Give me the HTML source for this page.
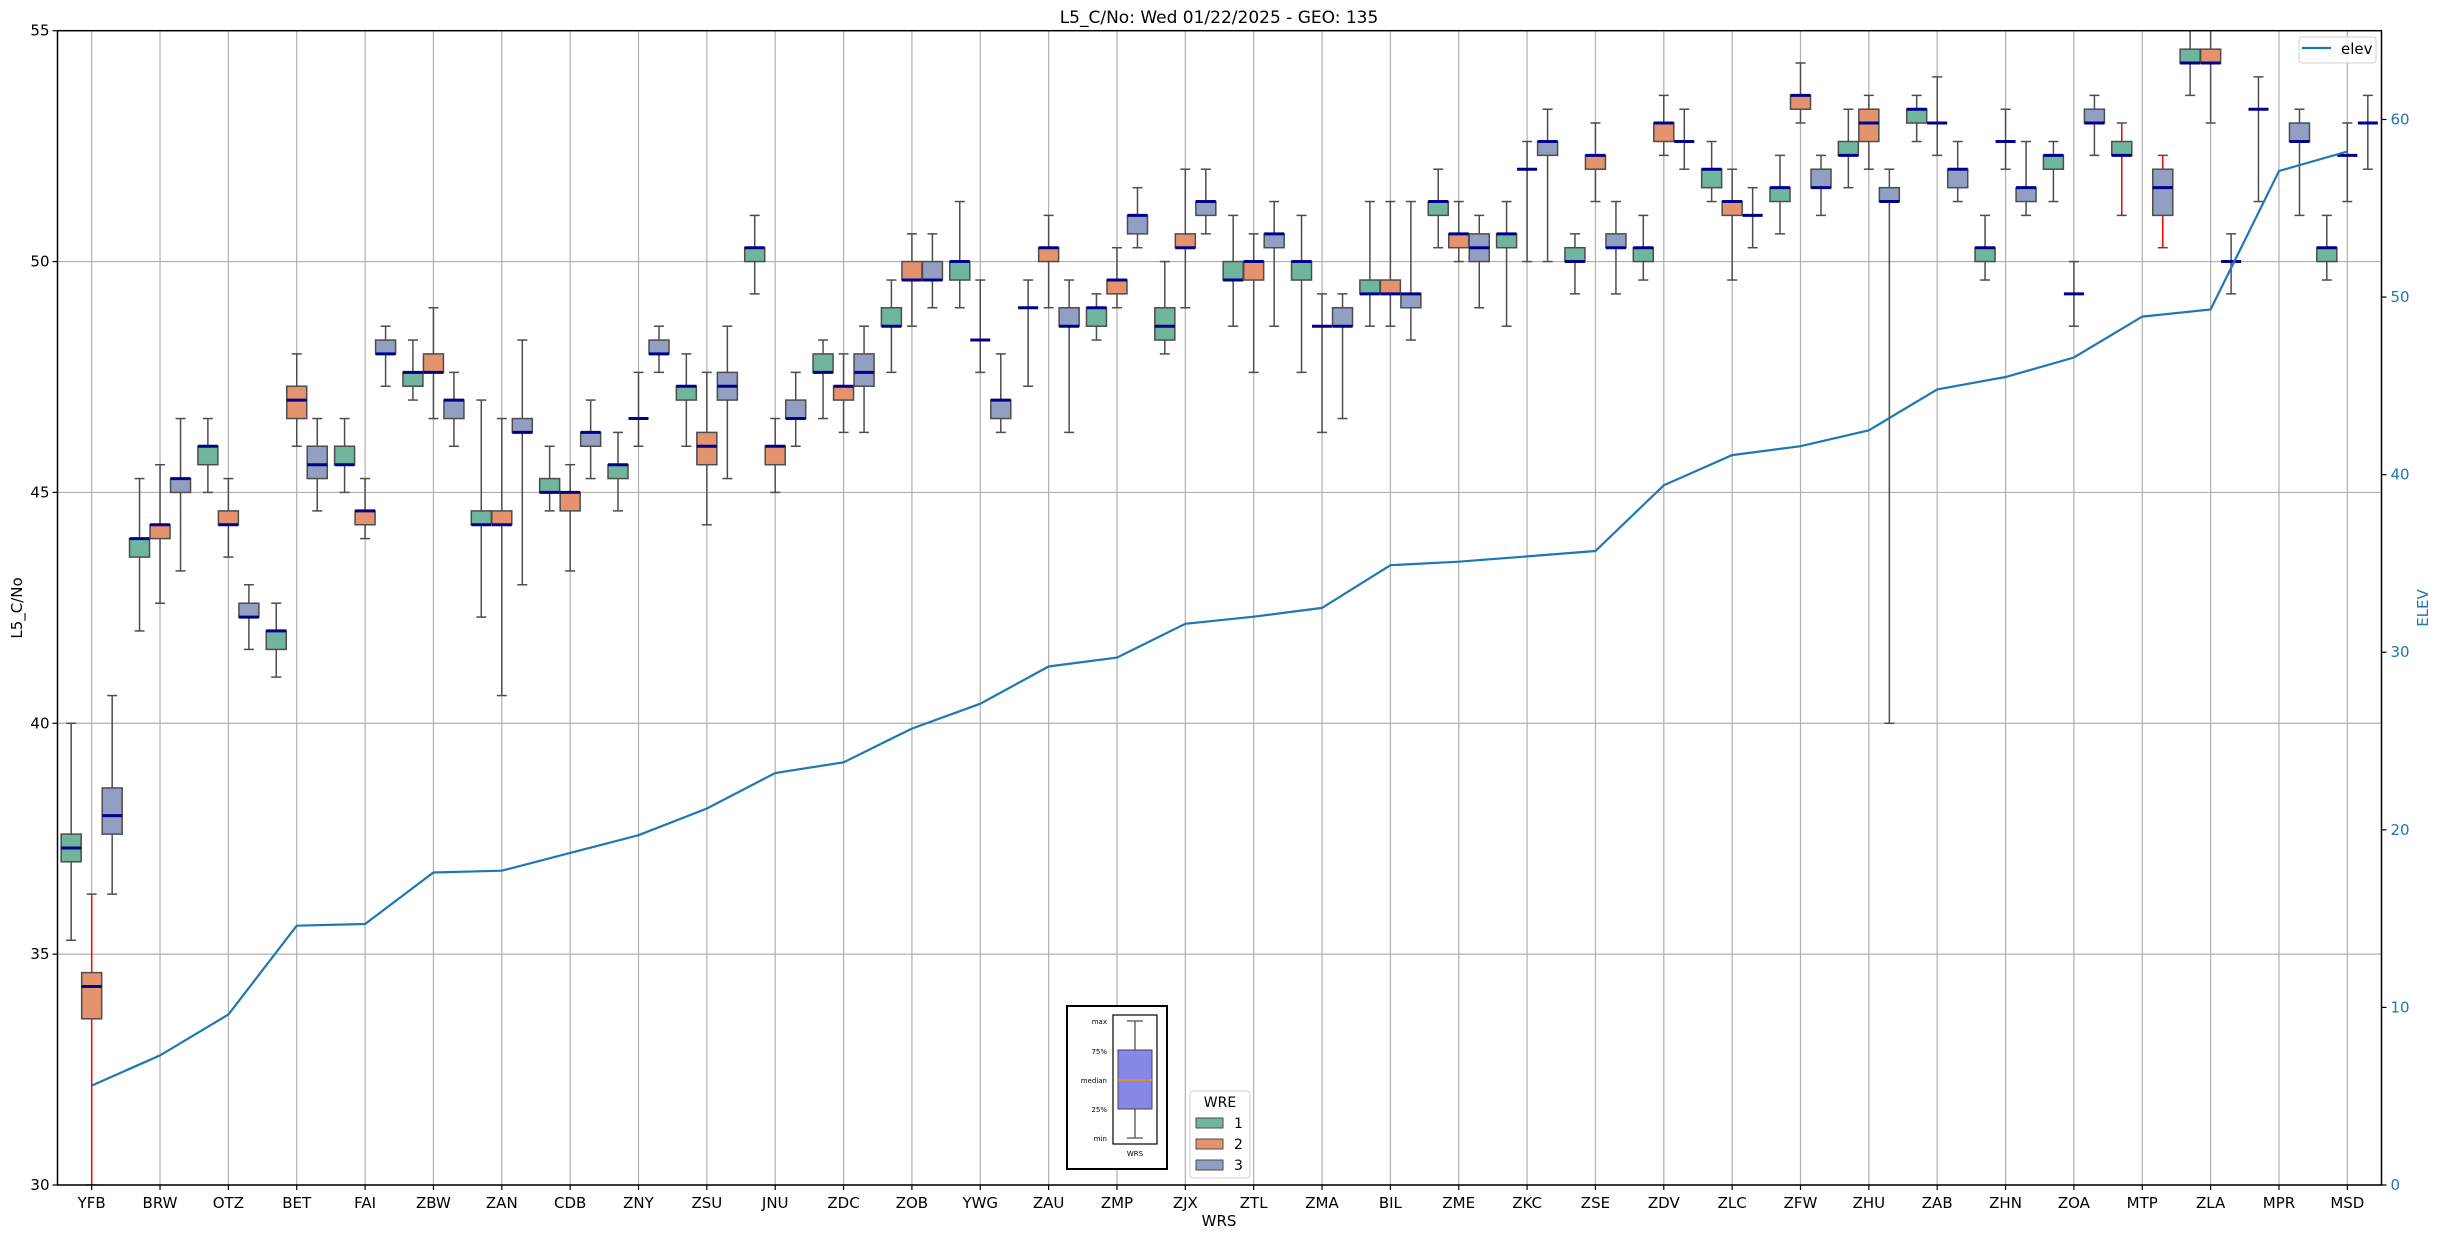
<!DOCTYPE html>
<html><head><meta charset="utf-8"><style>
html,body{margin:0;padding:0;background:#fff;}
svg{display:block;font-family:"DejaVu Sans","Liberation Sans",sans-serif;}
</style></head><body>
<svg id="chart" width="2439" height="1238" viewBox="0 0 2439 1238" xmlns="http://www.w3.org/2000/svg">
<defs><clipPath id="plotclip"><rect x="57.5" y="30.7" width="2324" height="1154.3"/></clipPath></defs>
<rect x="0" y="0" width="2439" height="1238" fill="#fff"/>
<text x="1219" y="23" font-size="17" text-anchor="middle">L5_C/No: Wed 01/22/2025 - GEO: 135</text>
<g id="grid"></g><g id="boxes" clip-path="url(#plotclip)"></g><g id="elev" clip-path="url(#plotclip)"></g><g id="axes"></g>
</svg>
<script>
const categories = ["YFB","BRW","OTZ","BET","FAI","ZBW","ZAN","CDB","ZNY","ZSU","JNU","ZDC","ZOB","YWG","ZAU","ZMP","ZJX","ZTL","ZMA","BIL","ZME","ZKC","ZSE","ZDV","ZLC","ZFW","ZHU","ZAB","ZHN","ZOA","MTP","ZLA","MPR","MSD"];
const wre1 = [[35.3,37,37.3,37.6,40],[42,43.6,44,44,45.3],[45,45.6,46,46,46.6],[41,41.6,42,42,42.6],[45,45.6,45.6,46,46.6],[47,47.3,47.6,47.6,48.3],[42.3,44.3,44.3,44.6,47],[44.6,45,45,45.3,46],[44.6,45.3,45.6,45.6,46.3],[46,47,47.3,47.3,48],[49.3,50,50.3,50.3,51],[46.6,47.6,47.6,48,48.3],[47.6,48.6,48.6,49,49.6],[49,49.6,50,50,51.3],[47.3,49,49,49,49.6],[48.3,48.6,49,49,49.3],[48,48.3,48.6,49,50],[48.6,49.6,49.6,50,51],[47.6,49.6,50,50,51],[48.6,49.3,49.3,49.6,51.3],[50.3,51,51.3,51.3,52],[48.6,50.3,50.6,50.6,51.3],[49.3,50,50,50.3,50.6],[49.6,50,50.3,50.3,51],[51.3,51.6,52,52,52.6],[50.6,51.3,51.6,51.6,52.3],[51.6,52.3,52.3,52.6,53.3],[52.6,53,53.3,53.3,53.6],[49.6,50,50.3,50.3,51],[51.3,52,52.3,52.3,52.6],[51,52.3,52.3,52.6,53],[53.6,54.3,54.3,54.6,55.3],[51.3,53.3,53.3,53.3,54],[49.6,50,50.3,50.3,51]];
const wre2 = [[30,33.6,34.3,34.6,36.3],[42.6,44,44.3,44.3,45.6],[43.6,44.3,44.3,44.6,45.3],[46,46.6,47,47.3,48],[44,44.3,44.6,44.6,45.3],[46.6,47.6,47.6,48,49],[40.6,44.3,44.3,44.6,46.6],[43.3,44.6,45,45,45.6],[46,46.6,46.6,46.6,47.6],[44.3,45.6,46,46.3,47.6],[45,45.6,46,46,46.6],[46.3,47,47.3,47.3,48],[48.6,49.6,49.6,50,50.6],[47.6,48.3,48.3,48.3,49.6],[49,50,50.3,50.3,51],[49,49.3,49.6,49.6,50.3],[49,50.3,50.3,50.6,52],[47.6,49.6,50,50,50.6],[46.3,48.6,48.6,48.6,49.3],[48.6,49.3,49.3,49.6,51.3],[50,50.3,50.6,50.6,51.3],[50,52,52,52,52.6],[51.3,52,52.3,52.3,53],[52.3,52.6,53,53,53.6],[49.6,51,51.3,51.3,52],[53,53.3,53.6,53.6,54.3],[52,52.6,53,53.3,53.6],[52.3,53,53,53,54],[52,52.6,52.6,52.6,53.3],[48.6,49.3,49.3,49.3,50],null,[53,54.3,54.3,54.6,55.3],null,[51.3,52.3,52.3,52.3,53]];
const wre3 = [[36.3,37.6,38,38.6,40.6],[43.3,45,45.3,45.3,46.6],[41.6,42.3,42.3,42.6,43],[44.6,45.3,45.6,46,46.6],[47.3,48,48,48.3,48.6],[46,46.6,47,47,47.6],[43,46.3,46.3,46.6,48.3],[45.3,46,46.3,46.3,47],[47.6,48,48,48.3,48.6],[45.3,47,47.3,47.6,48.6],[46,46.6,46.6,47,47.6],[46.3,47.3,47.6,48,48.6],[49,49.6,49.6,50,50.6],[46.3,46.6,47,47,48],[46.3,48.6,48.6,49,49.6],[50.3,50.6,51,51,51.6],[50.6,51,51.3,51.3,52],[48.6,50.3,50.6,50.6,51.3],[46.6,48.6,48.6,49,49.3],[48.3,49,49.3,49.3,51.3],[49,50,50.3,50.6,51],[50,52.3,52.6,52.6,53.3],[49.3,50.3,50.3,50.6,51.3],[52,52.6,52.6,52.6,53.3],[50.3,51,51,51,51.6],[51,51.6,51.6,52,52.3],[40,51.3,51.3,51.6,52],[51.3,51.6,52,52,52.6],[51,51.3,51.6,51.6,52.6],[52.3,53,53,53.3,53.6],[50.3,51,51.6,52,52.3],[49.3,50,50,50,50.6],[51,52.6,52.6,53,53.3],[52,53,53,53,53.6]];
const redWhiskers = [["YFB",2],["MTP",1],["MTP",3]];
const elev = [5.6,7.3,9.6,14.6,14.7,17.6,17.7,18.7,19.7,21.2,23.2,23.8,25.7,27.1,29.2,29.7,31.6,32,32.5,34.9,35.1,35.4,35.7,39.4,41.1,41.6,42.5,44.8,45.5,46.6,48.9,49.3,57.1,58.2];
const leftTicks = [30,35,40,45,50,55];
const rightTicks = [0,10,20,30,40,50,60];
const wreLabels = ["1","2","3"];

const NS="http://www.w3.org/2000/svg";
const X0=57.5,X1=2381.5,Y0=30.7,Y1=1185;
const xs=i=>X0+(i+0.5)*(X1-X0)/categories.length;
const yL=v=>Y1-(v-30)/(55-30)*(Y1-Y0);
const yR=v=>Y1-v/65*(Y1-Y0);
const fills=["#70b59d","#e5936e","#929fc3"];
function mk(tag,attrs,parent){const e=document.createElementNS(NS,tag);for(const k in attrs)e.setAttribute(k,attrs[k]);parent.appendChild(e);return e;}
const grid=document.getElementById('grid'),boxes=document.getElementById('boxes'),elevG=document.getElementById('elev'),axes=document.getElementById('axes');

leftTicks.forEach(t=>{const l=mk('line',{x1:X0,x2:X1,y1:yL(t),y2:yL(t),stroke:'#b0b0b0','stroke-width':1.2},grid);

});
categories.forEach((c,i)=>{const l=mk('line',{x1:xs(i),x2:xs(i),y1:Y0,y2:Y1,stroke:'#b0b0b0','stroke-width':1.2},grid);

});

const series=[wre1,wre2,wre3];
const offs=[-0.3,0,0.3];
const step=(X1-X0)/categories.length;
series.forEach((arr,s)=>{arr.forEach((d,i)=>{if(!d)return;
 const cx=xs(i)+offs[s]*step,w=20;
 const red=redWhiskers.some(r=>r[0]===categories[i]&&r[1]===s+1);
 const wc=red?'#ff0000':'#4d4d4d';
 const g=mk('g',{},boxes);
 
 
 mk('line',{x1:cx,x2:cx,y1:yL(d[0]),y2:yL(d[1]),stroke:wc,'stroke-width':1.5},g);
 mk('line',{x1:cx,x2:cx,y1:yL(d[3]),y2:yL(d[4]),stroke:wc,'stroke-width':1.5},g);
 mk('line',{x1:cx-w/4,x2:cx+w/4,y1:yL(d[0]),y2:yL(d[0]),stroke:'#4d4d4d','stroke-width':1.5},g);
 mk('line',{x1:cx-w/4,x2:cx+w/4,y1:yL(d[4]),y2:yL(d[4]),stroke:'#4d4d4d','stroke-width':1.5},g);
 if(d[3]>d[1]) mk('rect',{x:cx-w/2,y:yL(d[3]),width:w,height:yL(d[1])-yL(d[3]),fill:fills[s],stroke:'#4d4d4d','stroke-width':1.5},g);
 mk('line',{x1:cx-w/2,x2:cx+w/2,y1:yL(d[2]),y2:yL(d[2]),stroke:'#00008b','stroke-width':3},g);
});});

let pts=elev.map((v,i)=>xs(i).toFixed(1)+','+yR(v).toFixed(1)).join(' ');
const pl=mk('polyline',{points:pts,fill:'none',stroke:'#1f77b4','stroke-width':2.2},elevG);



const frame=mk('rect',{x:X0,y:Y0,width:X1-X0,height:Y1-Y0,fill:'none',stroke:'#000','stroke-width':1.5},axes);


leftTicks.forEach(t=>{mk('line',{x1:X0-5,x2:X0,y1:yL(t),y2:yL(t),stroke:'#000','stroke-width':1.2},axes);
 const tx=mk('text',{x:X0-8,y:yL(t)+5,'font-size':15,'text-anchor':'end'},axes);tx.textContent=t;
 
 });
rightTicks.forEach(t=>{mk('line',{x1:X1,x2:X1+5,y1:yR(t),y2:yR(t),stroke:'#000','stroke-width':1.2},axes);
 const tx=mk('text',{x:X1+9,y:yR(t)+5,'font-size':15,fill:'#1f77b4'},axes);tx.textContent=t;
 
 });
categories.forEach((c,i)=>{mk('line',{x1:xs(i),x2:xs(i),y1:Y1,y2:Y1+5,stroke:'#000','stroke-width':1.2},axes);
 const tx=mk('text',{x:xs(i),y:Y1+23,'font-size':15,'text-anchor':'middle'},axes);tx.textContent=c;
 
 });
</script>
<g></g>
<svg style="position:absolute;left:0;top:0" width="2439" height="1238" xmlns="http://www.w3.org/2000/svg" font-family="DejaVu Sans, Liberation Sans, sans-serif">
<text x="1219" y="1226" font-size="15" text-anchor="middle">WRS</text>
<text x="22" y="608" font-size="15" text-anchor="middle" transform="rotate(-90 22 608)">L5_C/No</text>
<text x="2428" y="608" font-size="15" text-anchor="middle" fill="#1f77b4" transform="rotate(-90 2428 608)">ELEV</text>
<g>
<rect x="2299" y="37" width="77" height="26" rx="3" fill="#fff" fill-opacity="0.85" stroke="#d0d0d0"/>
<line x1="2302" y1="48" x2="2331" y2="48" stroke="#1f77b4" stroke-width="2.2"/>
<text x="2341" y="54" font-size="15">elev</text>
</g>
<g>
<rect x="1067" y="1006" width="100" height="163" fill="#fff" stroke="#000" stroke-width="2"/>
<rect x="1113" y="1015" width="44" height="129" fill="none" stroke="#000" stroke-width="1.2"/>
<line x1="1135" y1="1021" x2="1135" y2="1050" stroke="#444" stroke-width="1.2"/>
<line x1="1135" y1="1109" x2="1135" y2="1138" stroke="#444" stroke-width="1.2"/>
<line x1="1127" y1="1021" x2="1143" y2="1021" stroke="#444" stroke-width="1.2"/>
<line x1="1127" y1="1138" x2="1143" y2="1138" stroke="#444" stroke-width="1.2"/>
<rect x="1118" y="1050" width="34" height="59" fill="#8787e8" stroke="#444" stroke-width="1"/>
<line x1="1118" y1="1080" x2="1152" y2="1080" stroke="#ff8c00" stroke-width="1.5"/>
<g font-size="7" text-anchor="end">
<text x="1107" y="1024">max</text><text x="1107" y="1054">75%</text><text x="1107" y="1083">median</text><text x="1107" y="1112">25%</text><text x="1107" y="1141">min</text>
</g>
<text x="1135" y="1156" font-size="7" text-anchor="middle">WRS</text>
</g>
<g>
<rect x="1190" y="1091" width="60" height="87" rx="3" fill="#fff" stroke="#d0d0d0"/>
<text x="1220" y="1107" font-size="14" text-anchor="middle">WRE</text>
<rect x="1196" y="1118" width="27" height="10" fill="#70b59d" stroke="#4d4d4d"/><text x="1234" y="1128" font-size="14">1</text>
<rect x="1196" y="1139" width="27" height="10" fill="#e5936e" stroke="#4d4d4d"/><text x="1234" y="1149" font-size="14">2</text>
<rect x="1196" y="1160" width="27" height="10" fill="#929fc3" stroke="#4d4d4d"/><text x="1234" y="1170" font-size="14">3</text>
</g>
</svg>
</body></html>
